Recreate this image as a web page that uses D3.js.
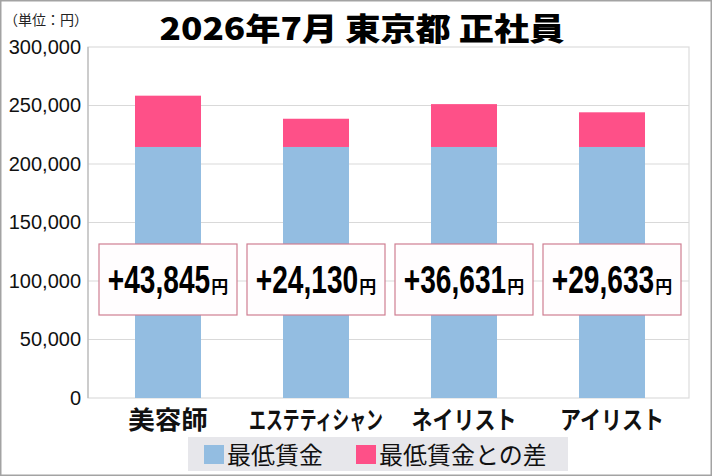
<!DOCTYPE html>
<html>
<head>
<meta charset="utf-8">
<script src="https://cdn.jsdelivr.net/npm/d3@7"></script>
<style>
  body { margin: 0; background: #fff; }
  svg { display: block; }
</style>
</head>
<body>
<div id="main_plot"></div>
<script>
// data
let categories = ["美容師", "エステティシャン", "ネイリスト", "アイリスト"];
let minimumWage = [214550, 214550, 214550, 214550];
let wageGap = [43845, 24130, 36631, 29633];
let yTicks = [0, 50000, 100000, 150000, 200000, 250000, 300000];
let seriesNames = ["最低賃金", "最低賃金との差"];
let chartTitle = "2026年7月 東京都 正社員";
let unitLabel = "（単位：円）";

let colors = ["#93bde1", "#fe5088"];

let W = 712, H = 476;
let plot = { left: 88, top: 47, right: 689, bottom: 398 };

function makePlot() {
  let svg = d3.select("#main_plot").append("svg")
    .attr("width", W)
    .attr("height", H);

  // outer frame
  svg.append("rect")
    .attr("x", 0.75).attr("y", 0.75)
    .attr("width", W - 1.5).attr("height", H - 1.5)
    .attr("fill", "#fff")
    .attr("stroke", "#a3a3a3")
    .attr("stroke-width", 1.5);

  let x = d3.scaleBand()
    .domain(categories)
    .range([94, 686])
    .paddingInner(0.554)
    .paddingOuter(0.277);

  let y = d3.scaleLinear()
    .domain([0, 300000])
    .range([plot.bottom, plot.top]);

  // plot area
  svg.append("rect")
    .attr("x", plot.left).attr("y", plot.top)
    .attr("width", plot.right - plot.left)
    .attr("height", plot.bottom - plot.top)
    .attr("fill", "#fff")
    .attr("stroke", "#dcdcdc")
    .attr("stroke-width", 1.2);

  // gridlines
  svg.append("g")
    .selectAll("line")
    .data(yTicks.slice(1, -1))
    .enter().append("line")
    .attr("x1", plot.left).attr("x2", plot.right)
    .attr("y1", d => y(d)).attr("y2", d => y(d))
    .attr("stroke", "#d9d9d9")
    .attr("stroke-width", 1.2);

  // left axis line
  svg.append("line")
    .attr("x1", plot.left).attr("x2", plot.left)
    .attr("y1", plot.top).attr("y2", plot.bottom)
    .attr("stroke", "#b8b8b8")
    .attr("stroke-width", 1.2);

  // y tick labels
  let yAxis = d3.axisLeft(y)
    .tickValues(yTicks)
    .tickSize(0)
    .tickPadding(7)
    .tickFormat(d3.format(","));
  let yg = svg.append("g")
    .attr("transform", "translate(" + plot.left + ",0)")
    .call(yAxis);
  yg.select(".domain").remove();
  yg.selectAll("text")
    .attr("font-family", "'Liberation Sans', Arial, sans-serif")
    .attr("font-size", 20)
    .attr("fill", "#111");

  // stacked bars
  let rows = categories.map((c, i) => ({ name: c, base: minimumWage[i], gap: wageGap[i] }));
  let stacked = d3.stack().keys(["base", "gap"])(rows);

  svg.append("g")
    .selectAll("g")
    .data(stacked)
    .enter().append("g")
    .attr("fill", (d, i) => colors[i])
    .selectAll("rect")
    .data(d => d)
    .enter().append("rect")
    .attr("x", d => x(d.data.name))
    .attr("width", x.bandwidth())
    .attr("y", d => y(d[1]))
    .attr("height", d => y(d[0]) - y(d[1]));

  // difference boxes
  let boxW = 138, boxH = 71;
  let boxes = svg.append("g")
    .selectAll("g")
    .data(rows)
    .enter().append("g")
    .attr("transform", d => "translate(" + (x(d.name) + x.bandwidth() / 2) + "," + (y(100000) - 37) + ")");

  boxes.append("rect")
    .attr("x", -boxW / 2)
    .attr("width", boxW)
    .attr("height", boxH)
    .attr("fill", "#fffdfe")
    .attr("stroke", "#cf7f92")
    .attr("stroke-width", 1.2);

  // condensed numbers: squeeze horizontally, then put the small 円 after them
  boxes.each(function(d) {
    let g = d3.select(this).append("g");
    let num = g.append("text")
      .attr("y", 49)
      .attr("font-family", "'Liberation Sans', Arial, sans-serif")
      .attr("font-weight", "bold")
      .attr("font-size", 38)
      .attr("fill", "#000")
      .attr("transform", "scale(0.74,1)")
      .text("+" + d3.format(",")(d.gap));
    let numW = num.node().getComputedTextLength() * 0.74;
    let yen = g.append("text")
      .attr("x", numW + 1)
      .attr("y", 49)
      .attr("font-family", "'Noto Sans CJK JP', sans-serif")
      .attr("font-weight", "bold")
      .attr("font-size", 17)
      .attr("fill", "#000")
      .text("円");
    let total = numW + 1 + yen.node().getComputedTextLength();
    g.attr("transform", "translate(" + (-total / 2) + ",0)");
  });

  // category labels (katakana ones are set condensed in the original)
  svg.append("g")
    .selectAll("text")
    .data(categories)
    .enter().append("text")
    .attr("text-anchor", "middle")
    .attr("font-family", "'Noto Sans CJK JP', sans-serif")
    .attr("font-weight", "bold")
    .attr("font-size", 25)
    .attr("fill", "#111")
    .text(d => d)
    .each(function(d) {
      let natural = this.getComputedTextLength();
      let sx = d.length > 3 ? Math.min(natural * 0.84, 134) / natural : 1.06;
      d3.select(this).attr("transform",
        "translate(" + (x(d) + x.bandwidth() / 2) + ",429) scale(" + sx + ",1)");
    });

  // title
  svg.append("text")
    .attr("x", 362)
    .attr("y", 40)
    .attr("text-anchor", "middle")
    .attr("font-family", "'Noto Sans CJK JP', sans-serif")
    .attr("font-weight", 900)
    .attr("font-size", 31)
    .attr("fill", "#000")
    .attr("textLength", 405)
    .attr("lengthAdjust", "spacingAndGlyphs")
    .text(chartTitle);

  svg.append("text")
    .attr("x", 4)
    .attr("y", 25)
    .attr("font-family", "'Noto Sans CJK JP', sans-serif")
    .attr("font-size", 14)
    .attr("fill", "#222")
    .text(unitLabel);

  // legend
  let legend = svg.append("g");
  legend.append("rect")
    .attr("x", 188).attr("y", 437)
    .attr("width", 380).attr("height", 34)
    .attr("fill", "#e7e7eb");

  let items = legend.selectAll(".legend")
    .data(seriesNames)
    .enter().append("g")
    .attr("class", "legend")
    .attr("transform", (d, i) => "translate(" + (i === 0 ? 204 : 356) + ",0)");
  items.append("rect")
    .attr("y", 445)
    .attr("width", 20)
    .attr("height", 19)
    .attr("fill", (d, i) => colors[i]);
  items.append("text")
    .attr("x", 23)
    .attr("y", 464)
    .attr("font-family", "'Noto Sans CJK JP', sans-serif")
    .attr("font-size", 24)
    .attr("fill", "#111")
    .text(d => d);
}

makePlot();
</script>
</body>
</html>
